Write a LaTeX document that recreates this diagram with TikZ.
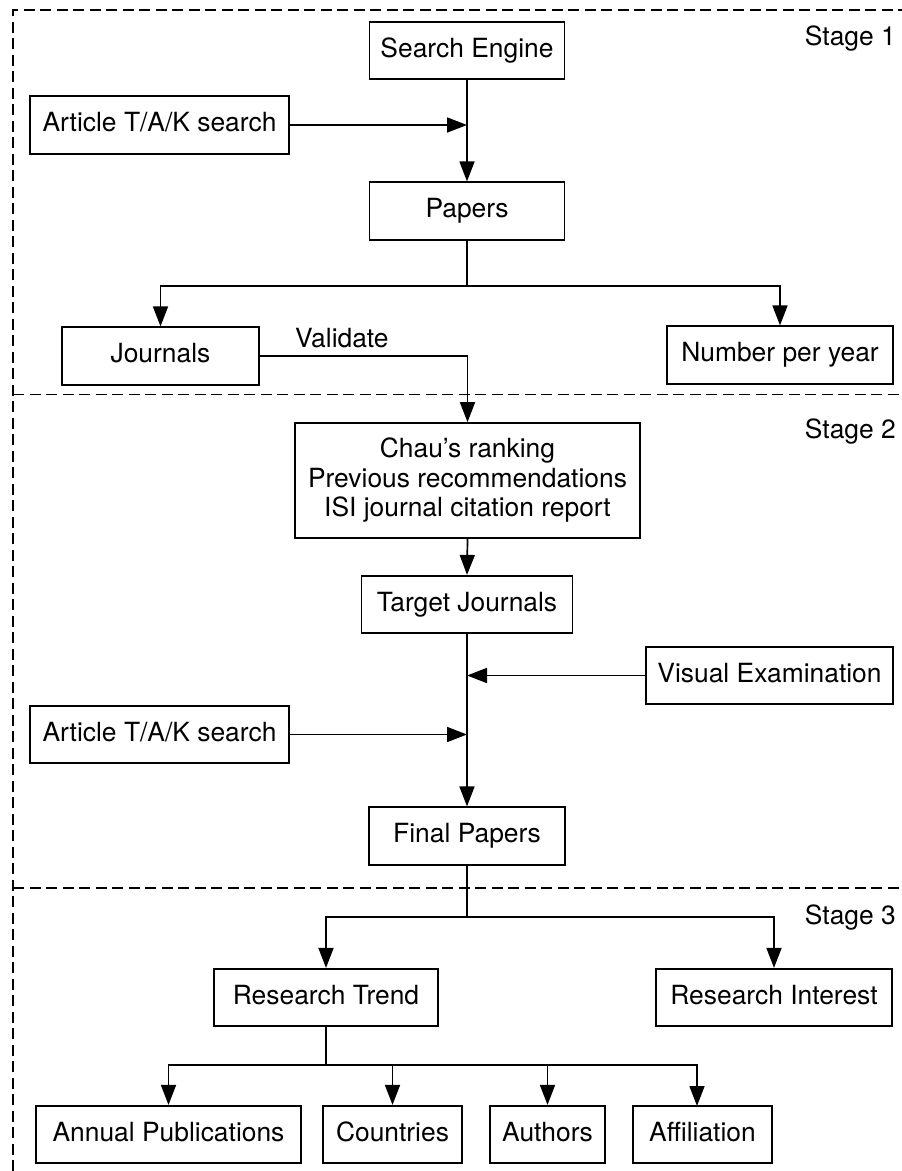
\documentclass[tikz,border=0pt]{standalone}
\usepackage{fontspec}
\setmainfont{TeX Gyre Heros}
\usetikzlibrary{arrows.meta}
\begin{document}
\begin{tikzpicture}[x=1pt,y=-1pt,
  every node/.style={font=\fontsize{26.4}{29.5}\selectfont},
  box/.style={draw, line width=1.7pt, inner sep=0pt, minimum height=57.5pt, align=center},
  oneline/.style={box, text height=19pt, text depth=5.5pt},
  link/.style={line width=1.7pt, -{Triangle[length=20pt,width=15pt]}},
  wire/.style={line width=1.7pt},
  frame/.style={line width=1.4pt, dash pattern=on 11pt off 5.5pt},
  stagelabel/.style={anchor=base east, inner sep=0pt}]
\useasboundingbox (0,0) rectangle (902,1171);

% stage frame and separators
\draw[frame] (13,1171) -- (13,10) -- (902,10);
\draw[frame] (13,394.5) -- (902,394.5);
\draw[frame] (13,888) -- (902,888);

\node[stagelabel] (st1) at (896,45) {Stage 1};
\node[stagelabel] (st2) at (896,438) {Stage 2};
\node[stagelabel] (st3) at (896,924) {Stage 3};

% Stage 1
\node[oneline, minimum width=195pt] (se) at (467,50.5) {Search Engine};
\node[oneline, minimum width=259pt] (art1) at (159.5,125) {Article T/A/K search};
\node[oneline, minimum width=195pt] (papers) at (467,211) {Papers};
\node[oneline, minimum width=197pt] (journals) at (160.5,356) {Journals};
\node[oneline, minimum width=226pt] (npy) at (780,355) {Number per year};

% Stage 2
\node[box, minimum width=345pt, minimum height=115pt] (chau) at (467.5,480.5)
  {Chau’s ranking\\Previous recommendations\\ISI journal citation report};
\node[oneline, minimum width=211pt] (tj) at (467,604.5) {Target Journals};
\node[oneline, minimum width=247pt] (ve) at (769.5,675.5) {Visual Examination};
\node[oneline, minimum width=259pt] (art2) at (159.5,734.5) {Article T/A/K search};
\node[oneline, minimum width=196pt] (fp) at (467,836) {Final Papers};

% Stage 3
\node[oneline, minimum width=224pt] (rt) at (326,997.5) {Research Trend};
\node[oneline, minimum width=236pt] (ri) at (774,997.5) {Research Interest};
\node[oneline, minimum width=265pt] (ap) at (168.5,1134.5) {Annual Publications};
\node[oneline, minimum width=139pt] (co) at (392.5,1134.5) {Countries};
\node[oneline, minimum width=115pt] (au) at (547.5,1134.5) {Authors};
\node[oneline, minimum width=139pt] (af) at (702.5,1134.5) {Affiliation};

% junction points
\coordinate (j1) at (467,125);
\coordinate (s1) at (467,286);
\coordinate (j2) at (467,675.5);
\coordinate (j3) at (467,734.5);
\coordinate (s2) at (467,917);
\coordinate (s3) at (326,1065);
\coordinate (afin) at (697,1106);

% Stage 1 connectors
\draw[link] (se.south) -- (papers.north);
\draw[link] (art1.east) -- (j1);
\draw[wire] (papers.south) -- (s1);
\draw[link] (s1) -| (journals.north);
\draw[link] (s1) -| (npy.north);
\draw[link] (journals.east) -| (chau.north);
\node[anchor=base west, inner sep=0pt] (val) at (295,347) {Validate};

% Stage 2 connectors
\draw[link] (chau.south) -- (tj.north);
\draw[link] (tj.south) -- (fp.north);
\draw[link] (ve.west) -- (j2);
\draw[link] (art2.east) -- (j3);

% Stage 3 connectors
\draw[wire] (fp.south) -- (s2);
\draw[link] (s2) -| (rt.north);
\draw[link] (s2) -| (ri.north);
\draw[wire] (rt.south) -- (s3);
\draw[link] (s3) -| (ap.north);
\draw[link] (s3) -| (co.north);
\draw[link] (s3) -| (au.north);
\draw[link] (s3) -| (afin);
\end{tikzpicture}
\end{document}
